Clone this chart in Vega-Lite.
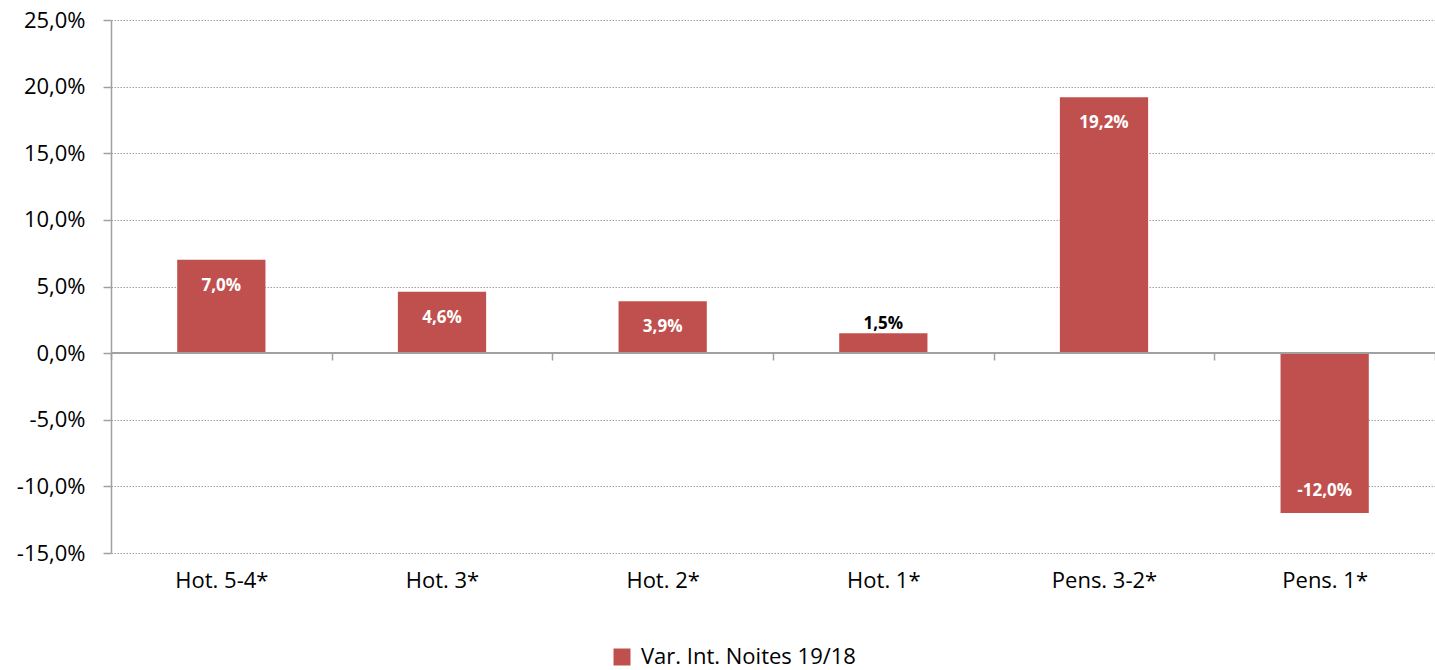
{
  "$schema": "https://vega.github.io/schema/vega-lite/v6.json",
  "width": 1324,
  "height": 533,
  "autosize": {"type": "none"},
  "padding": {"left": 111, "top": 20, "right": 0, "bottom": 117},
  "background": "white",
  "config": {
    "locale": {"number": {"decimal": ",", "thousands": ".", "grouping": [3], "currency": ["", " €"], "minus": "-"}},
    "view": {"stroke": null},
    "font": "Open Sans",
    "axis": {"labelFont": "Open Sans", "labelColor": "#000000", "labelFontSize": 23, "domainColor": "#A0A0A0", "tickColor": "#A0A0A0", "domainWidth": 1.5, "tickWidth": 1.5}
  },
  "data": {"values": [
    {"cat": "Hot. 5-4*", "v": 0.070, "serie": "Var. Int. Noites 19/18"},
    {"cat": "Hot. 3*", "v": 0.046, "serie": "Var. Int. Noites 19/18"},
    {"cat": "Hot. 2*", "v": 0.039, "serie": "Var. Int. Noites 19/18"},
    {"cat": "Hot. 1*", "v": 0.015, "serie": "Var. Int. Noites 19/18"},
    {"cat": "Pens. 3-2*", "v": 0.192, "serie": "Var. Int. Noites 19/18"},
    {"cat": "Pens. 1*", "v": -0.120, "serie": "Var. Int. Noites 19/18"}
  ]},
  "encoding": {
    "x": {"field": "cat", "type": "nominal", "sort": null,
      "scale": {"paddingInner": 0, "paddingOuter": 0},
      "axis": {"title": null, "labelAngle": 0, "domain": false, "tickBand": "extent", "tickSize": 7, "offset": -200, "labelPadding": 210, "labelFontSize": 22, "labelLimit": 0}},
    "y": {"field": "v", "type": "quantitative",
      "scale": {"domain": [-0.15, 0.25], "nice": false, "zero": false},
      "axis": {"title": null, "format": ".1%", "values": [-0.15, -0.1, -0.05, 0, 0.05, 0.1, 0.15, 0.2, 0.25], "tickSize": 8, "labelPadding": 18, "labelFontSize": 22, "grid": true, "gridColor": "#A0A0A0", "gridDash": [1.5, 1.5], "gridWidth": 1.2}}
  },
  "layer": [
    {"mark": {"type": "bar", "width": {"band": 0.4}},
     "encoding": {"color": {"field": "serie", "type": "nominal", "scale": {"range": ["#C0504D"]},
       "legend": {"title": null, "orient": "none", "legendX": 500, "legendY": 626, "direction": "horizontal", "symbolType": "square", "symbolSize": 289, "symbolStrokeWidth": 0, "labelFontSize": 22, "labelFont": "Open Sans", "labelColor": "#000000", "labelLimit": 0, "labelOffset": 8}}}},
    {"mark": {"type": "rule", "color": "#A0A0A0", "strokeWidth": 1.5},
     "encoding": {"y": {"datum": 0}, "x": {"value": 0}, "x2": {"value": 1324}}},
    {"transform": [{"filter": "datum.v >= 0.03"}],
     "mark": {"type": "text", "baseline": "middle", "dy": 26, "fontWeight": "bold", "fontSize": 17, "color": "#FFFFFF", "font": "Open Sans"},
     "encoding": {"text": {"field": "v", "type": "quantitative", "format": ".1%"}}},
    {"transform": [{"filter": "datum.v > 0 && datum.v < 0.03"}],
     "mark": {"type": "text", "baseline": "middle", "dy": -9, "fontWeight": "bold", "fontSize": 17, "color": "#000000", "font": "Open Sans"},
     "encoding": {"text": {"field": "v", "type": "quantitative", "format": ".1%"}}},
    {"transform": [{"filter": "datum.v < 0"}],
     "mark": {"type": "text", "baseline": "middle", "dy": -22, "fontWeight": "bold", "fontSize": 17, "color": "#FFFFFF", "font": "Open Sans"},
     "encoding": {"text": {"field": "v", "type": "quantitative", "format": ".1%"}}}
  ]
}
